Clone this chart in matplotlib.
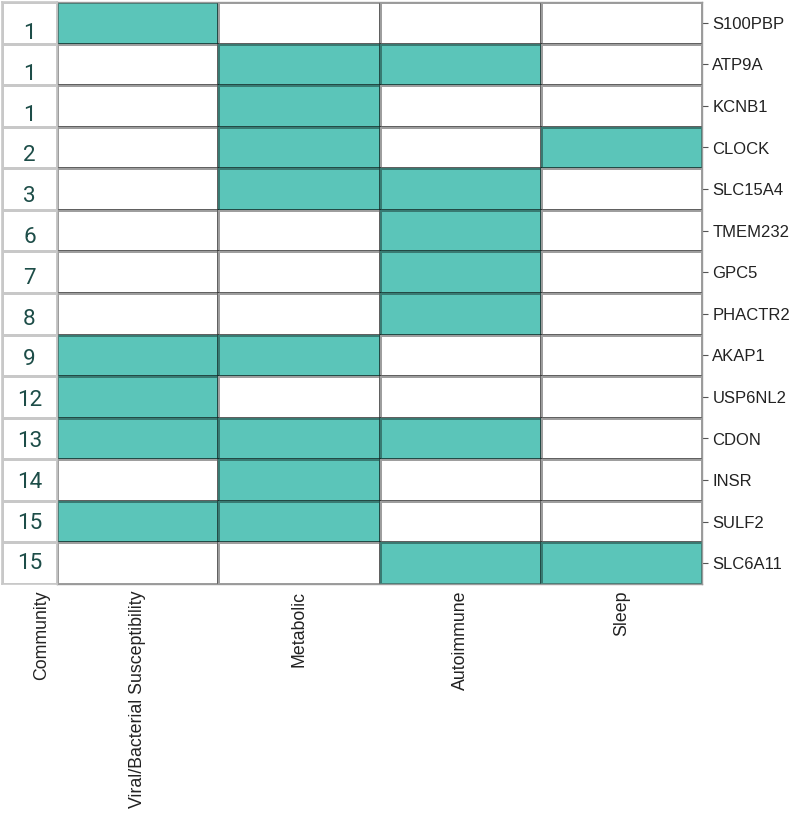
import numpy as np
import matplotlib.pyplot as plt
from matplotlib.colors import ListedColormap

# -----------------------------
# Data
# -----------------------------
genes = ["S100PBP", "ATP9A", "KCNB1", "CLOCK", "SLC15A4", "TMEM232", "GPC5",
         "PHACTR2", "AKAP1", "USP6NL2", "CDON", "INSR", "SULF2", "SLC6A11"]
communities = [1, 1, 1, 2, 3, 6, 7, 8, 9, 12, 13, 14, 15, 15]
categories = ["Viral/Bacterial Susceptibility", "Metabolic", "Autoimmune", "Sleep"]

viral = [1, 0, 0, 0, 0, 0, 0, 0, 1, 1, 1, 0, 1, 0]
metabolic = [0, 1, 1, 1, 1, 0, 0, 0, 1, 0, 1, 1, 1, 0]
autoimmune = [0, 1, 0, 0, 1, 1, 1, 1, 0, 0, 1, 0, 0, 1]
sleep = [0, 0, 0, 1, 0, 0, 0, 0, 0, 0, 0, 0, 0, 1]

TEAL = "#5bc5b9"
NUM_COLOR = "#1d4d48"

plt.rcParams["font.family"] = ["Liberation Sans", "DejaVu Sans"]

W, H = 797, 822
fig = plt.figure(figsize=(W / 100, H / 100), dpi=100)


def px_axes(x0, y0, x1, y1):
    return fig.add_axes([x0 / W, 1 - y1 / H, (x1 - x0) / W, (y1 - y0) / H])


# -----------------------------
# Main grid
# -----------------------------
ax = px_axes(57, 2, 702, 584)
mat = np.array([viral, metabolic, autoimmune, sleep]).T
n_rows, n_cols = mat.shape
ax.pcolormesh(np.arange(n_cols + 1), np.arange(n_rows + 1), mat,
              cmap=ListedColormap(["white", TEAL]), vmin=0, vmax=1,
              edgecolors=(0, 0, 0, 0.38), linewidth=1.0)
ax.set_xlim(0, n_cols)
ax.set_ylim(n_rows, 0)
ax.yaxis.tick_right()
ax.set_yticks(np.arange(n_rows) + 0.5)
ax.set_yticklabels(genes, fontsize=12, color="#222222")
ax.tick_params(axis="y", length=4, width=0.8, color="#555555", pad=3.5)
ax.set_xticks(np.arange(n_cols) + 0.5)
ax.set_xticklabels(categories, rotation=90, fontsize=12.8, color="#222222",
                   va="top", ha="center")
ax.tick_params(axis="x", length=0, pad=5)
for s in ax.spines.values():
    s.set_color("#9a9a9a")
    s.set_linewidth(1.0)

# -----------------------------
# Community column
# -----------------------------
axc = px_axes(2, 2, 57, 584)
axc.pcolormesh(np.arange(2), np.arange(n_rows + 1),
               np.zeros((n_rows, 1)), cmap=ListedColormap(["white"]),
               edgecolors="#c8c8c8", linewidth=1.0)
axc.set_xlim(0, 1)
axc.set_ylim(n_rows, 0)
for i, c in enumerate(communities):
    # baseline drifts from near the cell bottom to slightly below centre
    axc.text(0.5, i + 0.89 - 0.24 * i / (n_rows - 1), str(c),
             ha="center", va="baseline", fontsize=16.2,
             color=NUM_COLOR, family=["Roboto", "DejaVu Sans"])
axc.set_yticks([])
axc.set_xticks([0.72])
axc.set_xticklabels(["Community"], rotation=90, fontsize=12.8,
                    color="#222222", va="top", ha="center")
axc.tick_params(axis="x", length=0, pad=5)
for s in axc.spines.values():
    s.set_color("#c8c8c8")
    s.set_linewidth(1.2)

fig.savefig("out.png", dpi=100)
